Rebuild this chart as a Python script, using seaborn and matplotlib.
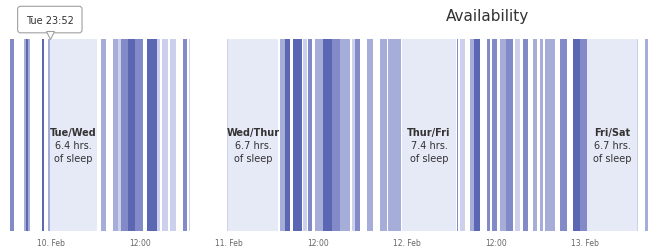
import matplotlib
matplotlib.use("Agg")
import matplotlib.pyplot as plt
import matplotlib.dates as mdates
import pandas as pd
import seaborn as sns

# availability windows (start, end, level 1-4)
avail_start = [
    "2016-02-09 18:20", "2016-02-09 20:25", "2016-02-09 20:40", "2016-02-09 20:55",
    "2016-02-09 22:50", "2016-02-09 23:38",
    "2016-02-10 06:48", "2016-02-10 08:25", "2016-02-10 09:05", "2016-02-10 09:30",
    "2016-02-10 10:25", "2016-02-10 11:20", "2016-02-10 13:00", "2016-02-10 14:20",
    "2016-02-10 15:00", "2016-02-10 16:05", "2016-02-10 17:50", "2016-02-10 18:35",
    "2016-02-10 23:40",
    "2016-02-11 06:53", "2016-02-11 07:34", "2016-02-11 08:38", "2016-02-11 09:59",
    "2016-02-11 10:40", "2016-02-11 11:36", "2016-02-11 12:41", "2016-02-11 13:53",
    "2016-02-11 14:58", "2016-02-11 16:35", "2016-02-11 16:59", "2016-02-11 18:36",
    "2016-02-11 20:21", "2016-02-11 21:26",
    "2016-02-12 06:43", "2016-02-12 07:07", "2016-02-12 08:28", "2016-02-12 09:00",
    "2016-02-12 10:45", "2016-02-12 11:25", "2016-02-12 12:30", "2016-02-12 13:20",
    "2016-02-12 14:31", "2016-02-12 15:36", "2016-02-12 16:57", "2016-02-12 17:53",
    "2016-02-12 18:34", "2016-02-12 20:35", "2016-02-12 22:20", "2016-02-12 23:15",
    "2016-02-13 07:00", "2016-02-13 08:00",
]
avail_end = [
    "2016-02-09 19:00", "2016-02-09 20:40", "2016-02-09 20:55", "2016-02-09 21:15",
    "2016-02-09 23:05", "2016-02-09 23:52",
    "2016-02-10 07:28", "2016-02-10 09:05", "2016-02-10 09:30", "2016-02-10 10:20",
    "2016-02-10 11:20", "2016-02-10 12:25", "2016-02-10 14:20", "2016-02-10 14:45",
    "2016-02-10 15:50", "2016-02-10 16:55", "2016-02-10 18:20", "2016-02-10 18:45",
    "2016-02-10 23:53",
    "2016-02-11 07:34", "2016-02-11 08:14", "2016-02-11 09:51", "2016-02-11 10:32",
    "2016-02-11 11:12", "2016-02-11 12:41", "2016-02-11 13:53", "2016-02-11 14:58",
    "2016-02-11 16:19", "2016-02-11 16:59", "2016-02-11 17:40", "2016-02-11 19:25",
    "2016-02-11 21:18", "2016-02-11 23:10",
    "2016-02-12 06:55", "2016-02-12 07:48", "2016-02-12 09:00", "2016-02-12 09:49",
    "2016-02-12 11:10", "2016-02-12 12:06", "2016-02-12 13:20", "2016-02-12 14:15",
    "2016-02-12 15:12", "2016-02-12 16:16", "2016-02-12 17:29", "2016-02-12 18:18",
    "2016-02-12 19:54", "2016-02-12 21:31", "2016-02-12 23:15", "2016-02-13 00:10",
    "2016-02-13 07:08", "2016-02-13 08:26",
]
avail_level = [
    3, 2, 4, 2,
    4, 2,
    2, 2, 1, 3,
    4, 3, 4, 1,
    1, 1, 3, 1,
    1,
    2, 4, 4, 1,
    3, 2, 4, 3,
    2, 1, 3, 2,
    2, 2,
    3, 1, 2, 4,
    3, 3, 2, 3,
    1, 3, 2, 2,
    2, 3, 4, 3,
    1, 2,
]

# sleep periods
sleep_start = ["2016-02-09 23:52", "2016-02-10 23:53", "2016-02-11 23:15", "2016-02-13 00:15"]
sleep_hours = [6.4, 6.7, 7.4, 6.7]
sleep_names = ["Tue/Wed", "Wed/Thur", "Thur/Fri", "Fri/Sat"]

tick_times = ["2016-02-10 00:00", "2016-02-10 12:00", "2016-02-11 00:00", "2016-02-11 12:00",
              "2016-02-12 00:00", "2016-02-12 12:00", "2016-02-13 00:00"]
tick_labels = ["10. Feb", "12:00", "11. Feb", "12:00", "12. Feb", "12:00", "13. Feb"]

x_range = ["2016-02-09 18:30", "2016-02-13 08:35"]
tooltip_text = "Tue 23:52"

sns.set_style("white")
plt.rcParams["font.family"] = ["DejaVu Sans"]

df = pd.DataFrame({
    "start": pd.to_datetime(avail_start),
    "end": pd.to_datetime(avail_end),
    "level": avail_level,
})
sleep = pd.DataFrame({
    "start": pd.to_datetime(sleep_start),
    "hours": sleep_hours,
    "name": sleep_names,
})
sleep["end"] = sleep["start"] + pd.to_timedelta(sleep["hours"], unit="h")

palette = sns.blend_palette(["#cdd0ec", "#5c67b4"], 4)

fig = plt.figure(figsize=(6.61, 2.53), dpi=100)
ax = fig.add_axes([10 / 661, 21 / 253, 639 / 661, 192 / 253])

# sleep bands
s0 = mdates.date2num(sleep["start"].values)
s1 = mdates.date2num(sleep["end"].values)
ax.bar(s0, 1, width=s1 - s0, align="edge", color="#e6e9f6", linewidth=0, zorder=0)

# availability bars
a0 = mdates.date2num(df["start"].values)
a1 = mdates.date2num(df["end"].values)
cols = [palette[l - 1] for l in df["level"]]
ax.bar(a0, 1, width=a1 - a0, align="edge", color=cols, linewidth=0, zorder=1)

for i, row in sleep.iterrows():
    xc = (s0[i] + s1[i]) / 2
    ax.text(xc, 0.516, row["name"], ha="center", va="center", fontsize=7,
            fontweight="bold", color="#333333", zorder=3)
    ax.text(xc, 0.448, f"{row['hours']} hrs.", ha="center", va="center", fontsize=7,
            color="#333333", zorder=3)
    ax.text(xc, 0.380, "of sleep", ha="center", va="center", fontsize=7,
            color="#333333", zorder=3)

ax.set_ylim(0, 1)
ax.set_xlim(mdates.date2num(pd.to_datetime(x_range).values))
ax.set_xticks(mdates.date2num(pd.to_datetime(tick_times).values))
ax.set_xticklabels(tick_labels, fontsize=5.5, color="#666666")
ax.set_yticks([])
ax.tick_params(axis="x", length=0, pad=5)
sns.despine(ax=ax, left=True, bottom=True)

# tooltip
tt = s0[0]
ax.annotate(tooltip_text, xy=(tt, 1.0), xycoords=("data", "axes fraction"),
            xytext=(0, 14), textcoords="offset points", ha="center", va="center",
            fontsize=7, color="#333333", annotation_clip=False, zorder=5,
            bbox=dict(boxstyle="round,pad=0.85,rounding_size=0.3", fc="white",
                      ec="#a0a0a0", lw=0.8))
ax.plot([tt], [1.02], marker="v", ms=6, mfc="white", mec="#a0a0a0", mew=0.8,
        clip_on=False, zorder=6)

fig.text(488 / 661, 1 - 16 / 253, "Availability", ha="center", va="center",
         fontsize=11, color="#333333")

fig.savefig("out.png", dpi=100)
